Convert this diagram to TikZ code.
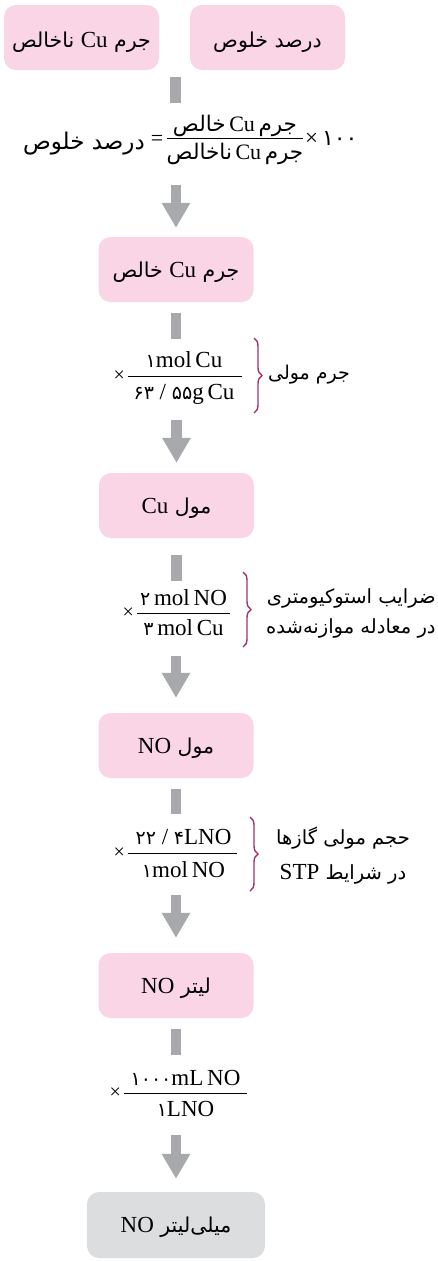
\documentclass[tikz,border=0pt]{standalone}
\usepackage{fontspec}
\setmainfont{Liberation Serif}
\newfontfamily\fa[Script=Arabic]{DejaVu Sans}
\TeXXeTstate=1
\usetikzlibrary{arrows.meta,decorations.pathreplacing,calc}
\definecolor{boxpink}{HTML}{F9D5E5}
\definecolor{boxgray}{HTML}{DCDDDF}
\definecolor{flowgray}{HTML}{A7A9AC}
\definecolor{bracecol}{HTML}{A3336E}
\newcommand\lt[1]{\beginL{\rmfamily\fontsize{23}{26}\selectfont #1}\endL{}}
\newcommand\lts[1]{\beginL{\rmfamily\fontsize{22}{24}\selectfont #1}\endL{}}
\newcommand\pd[1]{{\fa\fontsize{19}{22}\selectfont #1}}
\begin{document}
\begin{tikzpicture}[x=1pt,y=-1pt,
 box/.style={rounded corners=12pt, minimum width=155pt, minimum height=65pt, inner sep=0pt, text height=15pt, text depth=0pt, font=\fa\fontsize{20.5}{23}\selectfont},
 pinkbox/.style={box, fill=boxpink},
 graybox/.style={box, fill=boxgray, minimum width=178pt, minimum height=66pt},
 bar/.style={draw=flowgray, line width=10.5pt},
 flow/.style={draw=flowgray, line width=10.5pt, -{Triangle[width=27pt,length=25pt]}},
 frac/.style={anchor=base, inner sep=0pt, font=\rmfamily\fontsize{23}{26}\selectfont},
 fracline/.style={draw=black, line width=0.8pt},
 times/.style={anchor=east, inner sep=0pt, font=\rmfamily\fontsize{20}{24}\selectfont},
 side/.style={inner sep=0pt, font=\fa\fontsize{19}{22}\selectfont},
 curly/.style={draw=bracecol, line width=1.4pt, decorate, decoration={brace, amplitude=8pt}}
]
\useasboundingbox (0,0) rectangle (437,1261);

% top boxes
\node[pinkbox, text height=19pt] (A) at (81.5,37.5) {\beginR جرم \lt{Cu} ناخالص\endR};
\node[pinkbox, text height=19pt] (B) at (267.5,37.5) {\beginR درصد خلوص\endR};
\coordinate (top) at ($(A.south east)!0.5!(B.south west)$);
\draw[bar] ([xshift=1pt,yshift=-7pt]top) -- ([xshift=1pt,yshift=-33pt]top);

% top equation
\node[side, anchor=east, font=\fa\fontsize{23}{25}\selectfont] (eqL) at (145,144) {\beginR درصد خلوص\endR};
\node[inner sep=0pt, font=\rmfamily\fontsize{22}{24}\selectfont] (eqE) at (157,140) {=};
\node[frac, font=\fa\fontsize{21.5}{24}\selectfont] (eqN) at (235,131) {\beginR جرم\,\lts{Cu}\,خالص\endR};
\node[frac, font=\fa\fontsize{21.5}{24}\selectfont] (eqD) at (235,159) {\beginR جرم\,\lts{Cu}\,ناخالص\endR};
\draw[fracline] (167,138) -- (303,138);
\node[anchor=west, inner sep=0pt, font=\rmfamily\fontsize{23}{26}\selectfont] (eqX) at (305,139) {×\,{\fa\fontsize{22}{24}\selectfont ۱۰۰}};

% box C
\node[pinkbox] (C) at (176,269.5) {\beginR جرم \lt{Cu} خالص\endR};
\draw[flow] ([yshift=52pt]C.north) -- ([yshift=9pt]C.north);
\draw[bar] ([yshift=-11pt]C.south) -- ([yshift=-37pt]C.south);

% fraction 2
\node[frac] (n2) at (184,367) {\pd{۱}mol\,Cu};
\node[frac] (d2) at (184,399) {\pd{۶۳} / \pd{۵۵}g\,Cu};
\draw[fracline] (128,376) -- (242,376);
\node[times] (x2) at (125,376) {×};
\draw[curly] (254,338) -- (254,413);
\node[side, anchor=west] (s2) at (268,375) {\beginR جرم مولی\endR};

% box D
\node[pinkbox] (D) at (176.5,505.5) {\beginR مول \lt{Cu}\endR};
\draw[flow] ([yshift=53pt]D.north) -- ([yshift=10pt]D.north);
\draw[bar] ([yshift=-17pt]D.south) -- ([yshift=-43pt]D.south);

% fraction 3
\node[frac] (n3) at (183.5,605) {\pd{۲}\,mol\,NO};
\node[frac] (d3) at (183.5,635) {\pd{۳}\,mol\,Cu};
\draw[fracline] (137,613) -- (230,613);
\node[times] (x3) at (134,613) {×};
\draw[curly] (243,572) -- (243,647);
\node[side, anchor=west, align=right, font=\fa\fontsize{19.5}{30}\selectfont] (s3) at (266,613) {\beginR ضرایب استوکیومتری\endR\\\beginR در معادله موازنه^^^^200cشده\endR};

% box E
\node[pinkbox] (E) at (176,745.5) {\beginR مول \lt{NO}\endR};
\draw[flow] ([yshift=57pt]E.north) -- ([yshift=15pt]E.north);
\draw[bar] ([yshift=-11pt]E.south) -- ([yshift=-36pt]E.south);

% fraction 4
\node[frac] (n4) at (183.5,844) {\pd{۲۲} / \pd{۴}LNO};
\node[frac] (d4) at (183.5,877) {\pd{۱}mol\,NO};
\draw[fracline] (128,853) -- (237,853);
\node[times] (x4) at (125,853) {×};
\draw[curly] (250,817) -- (250,891);
\node[side, align=center, font=\fa\fontsize{19.5}{35}\selectfont] (s4) at (343,856) {\beginR حجم مولی گازها\endR\\\beginR در شرایط \lt{STP}\endR};

% box F
\node[pinkbox] (F) at (176,985.5) {\beginR لیتر \lt{NO}\endR};
\draw[flow] ([yshift=58pt]F.north) -- ([yshift=15pt]F.north);
\draw[bar] ([yshift=-11pt]F.south) -- ([yshift=-37pt]F.south);

% fraction 5
\node[frac] (n5) at (185.5,1085) {\pd{۱۰۰۰}mL\,NO};
\node[frac] (d5) at (185.5,1116) {\pd{۱}LNO};
\draw[fracline] (124,1093) -- (247,1093);
\node[times] (x5) at (121,1093) {×};

% box G
\node[graybox] (G) at (176,1225) {\beginR میلی^^^^200cلیتر \lt{NO}\endR};
\draw[flow] ([yshift=57pt]G.north) -- ([yshift=13pt]G.north);
\end{tikzpicture}
\end{document}
